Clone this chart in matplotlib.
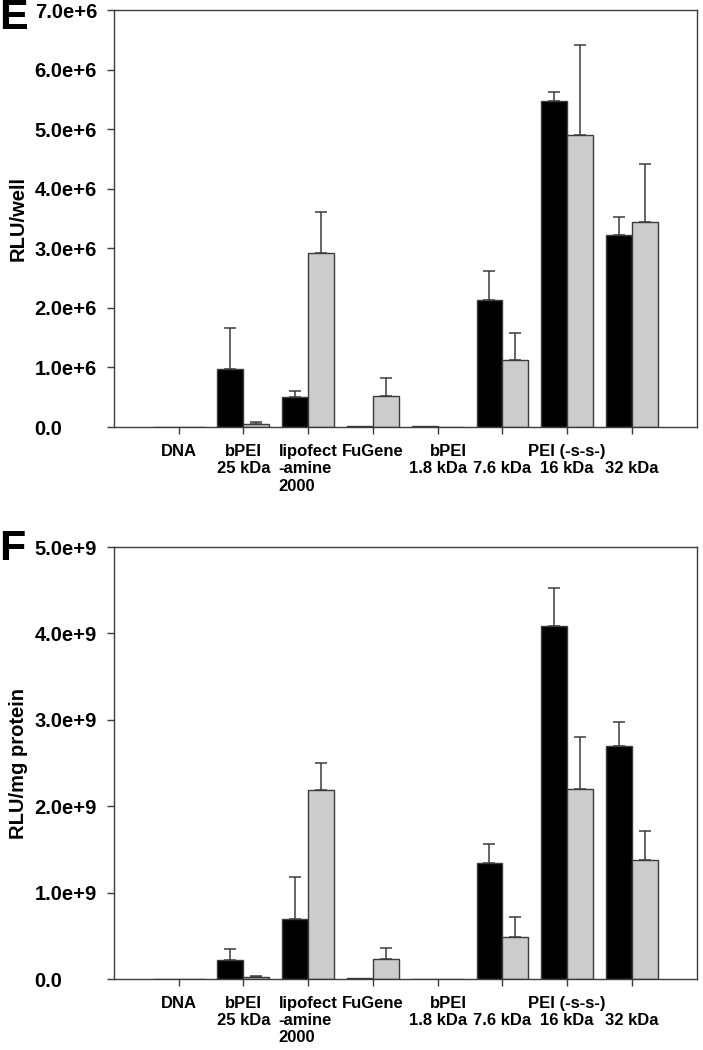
import numpy as np
import matplotlib
matplotlib.use("Agg")
import matplotlib.pyplot as plt

plt.rcParams['font.family'] = ['Liberation Sans', 'DejaVu Sans']
plt.rcParams['font.weight'] = 'bold'

#### data
labels = ["DNA", "bPEI\n25 kDa", "lipofect\n-amine\n2000", "FuGene",
          "bPEI\n1.8 kDa", "\n7.6 kDa", "PEI (-s-s-)\n16 kDa", "\n32 kDa"]

# panel E, RLU/well
e_black = [0, 0.97e6, 0.50e6, 0.01e6, 0.01e6, 2.14e6, 5.47e6, 3.23e6]
e_black_top = [0, 1.67e6, 0.60e6, 0, 0, 2.62e6, 5.62e6, 3.52e6]
e_gray = [0, 0.05e6, 2.93e6, 0.52e6, 0, 1.13e6, 4.91e6, 3.45e6]
e_gray_top = [0, 0.08e6, 3.61e6, 0.83e6, 0, 1.58e6, 6.42e6, 4.41e6]

# panel F, RLU/mg protein
f_black = [0, 0.22e9, 0.70e9, 0.01e9, 0.005e9, 1.34e9, 4.09e9, 2.70e9]
f_black_top = [0, 0.35e9, 1.18e9, 0, 0, 1.56e9, 4.53e9, 2.97e9]
f_gray = [0, 0.02e9, 2.19e9, 0.23e9, 0, 0.49e9, 2.20e9, 1.38e9]
f_gray_top = [0, 0.03e9, 2.50e9, 0.36e9, 0, 0.72e9, 2.80e9, 1.71e9]

e_ticks = ["0.0", "1.0e+6", "2.0e+6", "3.0e+6", "4.0e+6", "5.0e+6", "6.0e+6", "7.0e+6"]
f_ticks = ["0.0", "1.0e+9", "2.0e+9", "3.0e+9", "4.0e+9", "5.0e+9"]

LINE = '#3c3c3c'
GRAY = '#cccccc'
w = 0.4


def panel(ax, black, black_top, gray, gray_top, ticks, step, ylabel, letter, letter_y):
    x = np.arange(1, len(labels) + 1)
    ax.bar(x - w / 2, black, w, color='black', edgecolor=LINE, linewidth=1, zorder=2)
    ax.bar(x + w / 2, gray, w, color=GRAY, edgecolor=LINE, linewidth=1, zorder=2)
    for xs, v, t in [(x - w / 2, black, black_top), (x + w / 2, gray, gray_top)]:
        v = np.array(v)
        t = np.array(t)
        m = t > 0
        err = np.vstack([np.zeros(m.sum()), t[m] - v[m]])
        ax.errorbar(xs[m], v[m], yerr=err, fmt='none', ecolor=LINE,
                    elinewidth=1.1, capsize=4.5, capthick=1.1, zorder=1)
    ax.set_xlim(0, len(labels) + 1)
    ax.set_ylim(0, step * (len(ticks) - 1))
    ax.set_xticks(x)
    ax.set_xticklabels(labels, fontsize=12, fontweight='bold')
    for i, lab in enumerate(ax.get_xticklabels()):
        if i == 2:
            lab.set_multialignment('left')
        if i == 4:
            lab.set_multialignment('right')
    ax.set_yticks(np.arange(len(ticks)) * step)
    ax.set_yticklabels(ticks, fontsize=14.5, fontweight='bold')
    ax.tick_params(direction='out', length=5, width=1, color=LINE)
    ax.tick_params(axis='x', pad=7)
    # y tick labels are left aligned in the original
    ax.tick_params(axis='y', pad=52)
    for lab in ax.get_yticklabels():
        lab.set_horizontalalignment('left')
    for s in ax.spines.values():
        s.set_color(LINE)
        s.set_linewidth(1)
    ax.set_ylabel(ylabel, fontsize=14.5, fontweight='bold')
    ax.yaxis.set_label_coords(-0.148, 0.5)
    ax.text(-0.197, letter_y, letter, transform=ax.transAxes, fontsize=31,
            fontweight='bold', ha='left', va='center')


fig = plt.figure(figsize=(7.03, 10.5), dpi=100)
ax1 = fig.add_axes([0.162, 0.5933, 0.829, 0.3971])
ax2 = fig.add_axes([0.162, 0.0676, 0.829, 0.4114])

panel(ax1, e_black, e_black_top, e_gray, e_gray_top, e_ticks, 1e6, "RLU/well", "E", 0.98)
panel(ax2, f_black, f_black_top, f_gray, f_gray_top, f_ticks, 1e9, "RLU/mg protein", "F", 0.995)

fig.savefig("out.png", dpi=100)
